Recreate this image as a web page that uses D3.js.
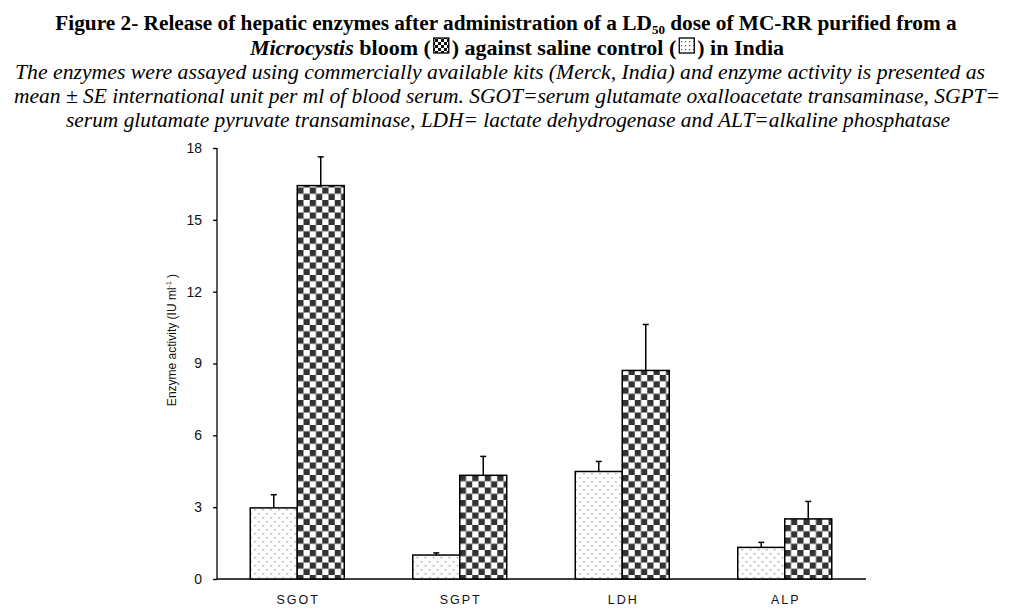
<!DOCTYPE html>
<html lang="en">
<head>
<meta charset="UTF-8">
<title>Figure 2 - hepatic enzymes</title>
<style>
  body { margin: 0; background: #fff; }
  .title { font-family: "Liberation Serif", "Times New Roman", serif; font-weight: bold; font-size: 21.3px; }
  .caption { font-family: "Liberation Serif", "Times New Roman", serif; font-style: italic; font-size: 21px; }
  .axis path, .axis line { stroke: #000; stroke-width: 1.3px; }
</style>
</head>
<body>
<svg width="1036" height="610"></svg>
<script src="https://d3js.org/d3.v7.min.js"></script>
<script>
// enzymes on the x axis
const enzymes = ["SGOT", "SGPT", "LDH", "ALP"];
// saline control (dotted bars)
const controlMean = [2.97, 1.0, 4.49, 1.32];
const controlSE   = [0.55, 0.09, 0.42, 0.21];
// MC-RR treated (checkered bars)
const treatMean = [16.43, 4.33, 8.71, 2.51];
const treatSE   = [1.2, 0.79, 1.92, 0.73];
const yTicks = [0, 3, 6, 9, 12, 15, 18];

const svg = d3.select("svg");

// patterns
const defs = svg.append("defs");
const checker = defs.append("pattern")
  .attr("id", "checker").attr("patternUnits", "userSpaceOnUse")
  .attr("width", 12.5).attr("height", 12.5);
checker.append("rect").attr("width", 12.5).attr("height", 12.5).attr("fill", "#fff");
checker.append("rect").attr("width", 6.25).attr("height", 6.25).attr("fill", "#333");
checker.append("rect").attr("x", 6.25).attr("y", 6.25).attr("width", 6.25).attr("height", 6.25).attr("fill", "#333");

const dots = defs.append("pattern")
  .attr("id", "dots").attr("patternUnits", "userSpaceOnUse")
  .attr("width", 8).attr("height", 8);
dots.append("rect").attr("width", 8).attr("height", 8).attr("fill", "#fff");
dots.append("rect").attr("x", 1).attr("y", 1).attr("width", 1.4).attr("height", 1.4).attr("fill", "#999");
dots.append("rect").attr("x", 5).attr("y", 5).attr("width", 1.4).attr("height", 1.4).attr("fill", "#999");

const smallDots = defs.append("pattern")
  .attr("id", "smallDots").attr("patternUnits", "userSpaceOnUse")
  .attr("width", 4).attr("height", 4);
smallDots.append("rect").attr("width", 4).attr("height", 4).attr("fill", "#fff");
smallDots.append("rect").attr("x", 1).attr("y", 1).attr("width", 1.2).attr("height", 1.2).attr("fill", "#555");

const bigChecker = defs.append("pattern")
  .attr("id", "bigChecker").attr("patternUnits", "userSpaceOnUse")
  .attr("width", 6).attr("height", 6);
bigChecker.append("rect").attr("width", 6).attr("height", 6).attr("fill", "#fff");
bigChecker.append("rect").attr("width", 3).attr("height", 3).attr("fill", "#111");
bigChecker.append("rect").attr("x", 3).attr("y", 3).attr("width", 3).attr("height", 3).attr("fill", "#111");

// titles
const t1 = svg.append("text").attr("class", "title").attr("x", 506).attr("y", 30).attr("text-anchor", "middle");
t1.append("tspan").text("Figure 2- Release of hepatic enzymes after administration of a LD");
t1.append("tspan").attr("font-size", 13).attr("dy", 4).text("50");
t1.append("tspan").attr("dy", -4).text(" dose of MC-RR purified from a");

const t2 = svg.append("text").attr("class", "title").attr("x", 517).attr("y", 55).attr("text-anchor", "middle")
  .style("font-size", "22px");
t2.append("tspan").attr("font-style", "italic").text("Microcystis");
const open1 = t2.append("tspan").text(" bloom (");
const close1 = t2.append("tspan").attr("dx", 21).text(") against saline control (");
const close2 = t2.append("tspan").attr("dx", 21).text(") in India");

const captions = [
  ["The enzymes were assayed using commercially available kits (Merck, India) and enzyme activity is presented as", 79, 15, 970],
  ["mean \u00b1 SE international unit per ml of blood serum. SGOT=serum glutamate oxalloacetate transaminase, SGPT=", 103, 14, 986],
  ["serum glutamate pyruvate transaminase, LDH= lactate dehydrogenase and ALT=alkaline phosphatase", 127, 66, 884]
];
svg.selectAll(".caption").data(captions).join("text")
  .attr("class", "caption")
  .attr("x", d => d[2]).attr("y", d => d[1])
  .attr("textLength", d => d[3]).attr("lengthAdjust", "spacingAndGlyphs")
  .text(d => d[0]);

// scales
const x = d3.scaleBand().domain(enzymes).range([216, 866]).paddingInner(0).paddingOuter(0);
const y = d3.scaleLinear().domain([0, 18]).range([579, 148]);
const bw = 47;

// axes
svg.append("g").attr("class", "axis")
  .attr("transform", "translate(217,0)")
  .call(d3.axisLeft(y).tickValues(yTicks).tickSize(4).tickPadding(11))
  .call(g => g.select(".domain").attr("d", `M0,${y(18)}V${y(0)}`))
  .call(g => g.selectAll("text")
    .attr("font-family", "Liberation Sans, Arial, sans-serif")
    .attr("font-size", 14).attr("fill", "#111"));

svg.append("line").attr("x1", 217).attr("x2", 866).attr("y1", y(0)).attr("y2", y(0))
  .attr("stroke", "#000").attr("stroke-width", 1.3);

svg.append("g")
  .selectAll("text").data(enzymes).join("text")
  .attr("x", d => x(d) + x.bandwidth() / 2 + 1)
  .attr("y", 604)
  .attr("text-anchor", "middle")
  .attr("letter-spacing", "2px")
  .attr("font-family", "Liberation Sans, Arial, sans-serif")
  .attr("font-size", 12.5).attr("fill", "#111")
  .text(d => d);

// y axis label
const yl = svg.append("text")
  .attr("transform", "translate(176,340) rotate(-90)")
  .attr("text-anchor", "middle")
  .attr("font-family", "Liberation Sans, Arial, sans-serif")
  .attr("font-size", 12)
  .attr("fill", "#111");
yl.append("tspan").text("Enzyme activity (IU ml");
yl.append("tspan").attr("font-size", 7).attr("dy", -5).text("-1");
yl.append("tspan").attr("dy", 5).text(" )");

// bars
const groups = enzymes.map((e, i) => ({
  e, items: [
    { off: -bw, mean: controlMean[i], se: controlSE[i], fill: "url(#dots)" },
    { off: 0, mean: treatMean[i], se: treatSE[i], fill: "url(#checker)" }
  ]
}));

const g = svg.append("g").selectAll("g").data(groups).join("g")
  .attr("transform", d => `translate(${x(d.e) + x.bandwidth() / 2},0)`);

const bars = g.selectAll("g").data(d => d.items).join("g");
bars.append("rect")
  .attr("x", d => d.off).attr("width", bw)
  .attr("y", d => y(d.mean)).attr("height", d => y(0) - y(d.mean))
  .attr("fill", d => d.fill).attr("stroke", "#000").attr("stroke-width", 1.5);
bars.append("line")
  .attr("x1", d => d.off + bw / 2).attr("x2", d => d.off + bw / 2)
  .attr("y1", d => y(d.mean)).attr("y2", d => y(d.mean + d.se))
  .attr("stroke", "#000").attr("stroke-width", 1.5);
bars.append("line")
  .attr("x1", d => d.off + bw / 2 - 3).attr("x2", d => d.off + bw / 2 + 3)
  .attr("y1", d => y(d.mean + d.se)).attr("y2", d => y(d.mean + d.se))
  .attr("stroke", "#000").attr("stroke-width", 1.5);

// legend swatches placed in the gaps left inside the title
[[open1, "url(#bigChecker)"], [close1, "url(#smallDots)"]].forEach(([span, fill]) => {
  const b = span.node().getBBox();
  svg.append("rect").attr("x", b.x + b.width + 3).attr("y", 38).attr("width", 15).attr("height", 15)
    .attr("fill", fill).attr("stroke", "#000").attr("stroke-width", 1.3);
});
</script>
</body>
</html>
